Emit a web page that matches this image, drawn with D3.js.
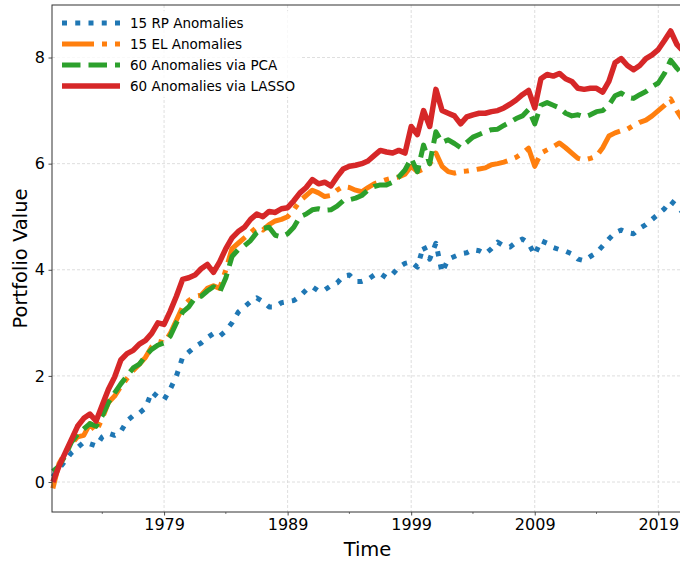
<!DOCTYPE html>
<html>
<head>
<meta charset="utf-8">
<title>Portfolio Value</title>
<script src="https://d3js.org/d3.v7.min.js"></script>
<style>
  body { margin: 0; background: #fff; }
  text { font-family: "DejaVu Sans", sans-serif; fill: #000; }
</style>
</head>
<body>
<div id="chart"></div>
<script>
// half-year sampling grid
var years = [
  1970, 1970.5, 1971, 1971.5, 1972, 1972.5, 1973, 1973.5, 1974, 1974.5,
  1975, 1975.5, 1976, 1976.5, 1977, 1977.5, 1978, 1978.5, 1979, 1979.5,
  1980, 1980.5, 1981, 1981.5, 1982, 1982.5, 1983, 1983.5, 1984, 1984.5,
  1985, 1985.5, 1986, 1986.5, 1987, 1987.5, 1988, 1988.5, 1989, 1989.5,
  1990, 1990.5, 1991, 1991.5, 1992, 1992.5, 1993, 1993.5, 1994, 1994.5,
  1995, 1995.5, 1996, 1996.5, 1997, 1997.5, 1998, 1998.5, 1999, 1999.5,
  2000, 2000.5, 2001, 2001.5, 2002, 2002.5, 2003, 2003.5, 2004, 2004.5,
  2005, 2005.5, 2006, 2006.5, 2007, 2007.5, 2008, 2008.5, 2009, 2009.5,
  2010, 2010.5, 2011, 2011.5, 2012, 2012.5, 2013, 2013.5, 2014, 2014.5,
  2015, 2015.5, 2016, 2016.5, 2017, 2017.5, 2018, 2018.5, 2019, 2019.5,
  2020, 2020.5, 2020.9
];

var rpValues = [
  0.1, 0.25, 0.4, 0.55, 0.65, 0.75, 0.72, 0.68, 0.85, 0.92,
  0.88, 0.95, 1.15, 1.25, 1.3, 1.4, 1.7, 1.6, 1.55, 1.75,
  2.0, 2.35, 2.45, 2.55, 2.62, 2.72, 2.8, 2.75, 2.85, 3.0,
  3.2, 3.3, 3.4, 3.47, 3.4, 3.3, 3.3, 3.38, 3.4, 3.42,
  3.5, 3.62, 3.68, 3.6, 3.62, 3.7, 3.75, 3.88, 3.9, 3.78,
  3.78, 3.82, 3.9, 3.93, 3.85, 3.92, 4.05, 4.12, 4.15, 4.05,
  4.45, 4.2, 4.5, 3.95, 4.2, 4.25, 4.3, 4.32, 4.38, 4.36,
  4.3, 4.4, 4.52, 4.45, 4.43, 4.52, 4.58, 4.5, 4.28, 4.55,
  4.5, 4.42, 4.38, 4.35, 4.3, 4.2, 4.17, 4.25, 4.32, 4.45,
  4.58, 4.7, 4.75, 4.7, 4.68, 4.78, 4.85, 4.95, 5.05, 5.15,
  5.3, 5.2, 5.1
];

var elValues = [
  -0.12, 0.35, 0.55, 0.72, 0.85, 0.88, 1.1, 0.95, 1.2, 1.5,
  1.62, 1.8, 1.95, 2.1, 2.22, 2.35, 2.55, 2.65, 2.62, 2.8,
  3.05, 3.3, 3.42, 3.5, 3.52, 3.65, 3.7, 3.65, 4.0, 4.4,
  4.5, 4.6, 4.7, 4.8, 4.75, 4.85, 4.92, 4.95, 5.0, 5.13,
  5.3, 5.4, 5.5, 5.45, 5.38, 5.4, 5.5, 5.57, 5.55, 5.5,
  5.47, 5.55, 5.62, 5.66, 5.7, 5.73, 5.75, 5.8, 5.95, 5.85,
  5.9, 6.0, 6.2, 5.95, 5.85, 5.82, 5.85, 5.86, 5.88, 5.9,
  5.92, 5.98, 6.0, 6.03, 6.07, 6.12, 6.2, 6.29, 5.95, 6.2,
  6.26, 6.32, 6.39, 6.3, 6.2, 6.1, 6.07, 6.1, 6.14, 6.3,
  6.52, 6.58, 6.62, 6.65, 6.72, 6.78, 6.82, 6.9, 7.0, 7.1,
  7.22, 7.0, 6.85
];

var pcaValues = [
  0.2, 0.3, 0.5, 0.75, 0.9, 1.0, 1.1, 1.05, 1.25, 1.5,
  1.68, 1.85, 2.0, 2.15, 2.22, 2.38, 2.5, 2.58, 2.62, 2.75,
  3.0, 3.2, 3.3, 3.47, 3.5, 3.6, 3.68, 3.58, 3.85, 4.25,
  4.38, 4.45, 4.55, 4.7, 4.78, 4.8, 4.65, 4.62, 4.68, 4.8,
  5.0, 5.05, 5.13, 5.15, 5.12, 5.13, 5.2, 5.3, 5.32, 5.35,
  5.4, 5.5, 5.57, 5.6, 5.6, 5.65, 5.75, 5.88, 6.1, 5.85,
  6.35, 6.0, 6.6, 6.4, 6.45, 6.38, 6.3, 6.4, 6.5, 6.55,
  6.6, 6.64, 6.65, 6.72, 6.78, 6.85, 6.9, 7.02, 6.75, 7.1,
  7.15, 7.1, 7.05, 6.95, 6.9, 6.92, 6.88, 6.92, 6.98, 7.0,
  7.1, 7.28, 7.33, 7.25, 7.23, 7.3, 7.36, 7.45, 7.52, 7.7,
  7.95, 7.8, 7.7
];

var lassoValues = [
  0.0, 0.3, 0.55, 0.8, 1.05, 1.2, 1.28, 1.15, 1.45, 1.75,
  1.98, 2.3, 2.42, 2.48, 2.6, 2.67, 2.8, 3.0, 2.97, 3.22,
  3.5, 3.82, 3.85, 3.9, 4.02, 4.1, 3.95, 4.15, 4.4, 4.6,
  4.72, 4.8, 4.95, 5.05, 5.0, 5.1, 5.08, 5.15, 5.17, 5.3,
  5.45, 5.55, 5.7, 5.62, 5.65, 5.58, 5.75, 5.9, 5.95, 5.97,
  6.0, 6.05, 6.15, 6.25, 6.22, 6.2, 6.25, 6.2, 6.7, 6.55,
  7.0, 6.7, 7.4, 7.0, 6.95, 6.9, 6.75, 6.88, 6.92, 6.95,
  6.95, 6.98, 7.0, 7.05, 7.12, 7.2, 7.3, 7.38, 7.05, 7.6,
  7.68, 7.65, 7.7, 7.6, 7.55, 7.42, 7.4, 7.42, 7.42, 7.35,
  7.55, 7.9, 7.98, 7.85, 7.77, 7.85, 7.98, 8.05, 8.15, 8.32,
  8.5, 8.25, 8.15
];

var seriesNames = ["15 RP Anomalies", "15 EL Anomalies", "60 Anomalies via PCA", "60 Anomalies via LASSO"];
var seriesColors = ["#1f77b4", "#ff7f0e", "#2ca02c", "#d62728"];
var seriesDash = ["5,8.25", "32,8,5,8", "18.5,8", null];

var majorYears = [1979, 1989, 1999, 2009, 2019];
var minorYears = [1974, 1984, 1994, 2004, 2014];
var yTicks = [0, 2, 4, 6, 8];

var width = 680, height = 561;
var plotLeft = 52, plotRight = 683, plotTop = 5, plotBottom = 512;

var svg = d3.select("#chart")
  .append("svg")
  .attr("width", width)
  .attr("height", height);

var x = d3.scaleLinear().domain([1969.93, 2021.0]).range([plotLeft, plotRight]);
var y = d3.scaleLinear().domain([-0.565, 8.99]).range([plotBottom, plotTop]);

// grid
var grid = svg.append("g")
  .attr("stroke", "#d6d6d6")
  .attr("stroke-width", 0.8)
  .attr("stroke-dasharray", "3,2");
grid.selectAll(".vgrid")
  .data(majorYears)
  .enter().append("line")
  .attr("x1", function(d) { return x(d); })
  .attr("x2", function(d) { return x(d); })
  .attr("y1", plotTop).attr("y2", plotBottom);
grid.selectAll(".hgrid")
  .data(yTicks)
  .enter().append("line")
  .attr("x1", plotLeft).attr("x2", plotRight)
  .attr("y1", function(d) { return y(d); })
  .attr("y2", function(d) { return y(d); });

// series lines
var series = [rpValues, elValues, pcaValues, lassoValues].map(function(vals, i) {
  return {
    name: seriesNames[i],
    color: seriesColors[i],
    dash: seriesDash[i],
    points: vals.map(function(v, j) { return [years[j], v]; })
  };
});

var line = d3.line()
  .x(function(d) { return x(d[0]); })
  .y(function(d) { return y(d[1]); });

svg.append("g").selectAll("path")
  .data(series)
  .enter().append("path")
  .attr("d", function(d) { return line(d.points); })
  .attr("fill", "none")
  .attr("stroke", function(d) { return d.color; })
  .attr("stroke-width", function(d, i) { return i == 3 ? 5.5 : 5; })
  .attr("stroke-linejoin", "round")
  .attr("stroke-dasharray", function(d) { return d.dash; });

// axes
var xAxis = svg.append("g")
  .attr("transform", "translate(0," + plotBottom + ")")
  .call(d3.axisBottom(x).tickValues(majorYears).tickFormat(d3.format("d"))
    .tickSize(3.5).tickPadding(3.5).tickSizeOuter(0));
xAxis.select(".domain").remove();
xAxis.selectAll("text").style("font-size", "16px").attr("fill", "#000");
xAxis.selectAll("line").attr("stroke", "#222").attr("stroke-width", 0.8);

svg.append("g")
  .selectAll("line")
  .data(minorYears)
  .enter().append("line")
  .attr("x1", function(d) { return x(d); })
  .attr("x2", function(d) { return x(d); })
  .attr("y1", plotBottom).attr("y2", plotBottom + 2)
  .attr("stroke", "#222")
  .attr("stroke-width", 0.6);

var yAxis = svg.append("g")
  .attr("transform", "translate(" + plotLeft + ",0)")
  .call(d3.axisLeft(y).tickValues(yTicks).tickSize(3.5).tickPadding(3.5).tickSizeOuter(0));
yAxis.select(".domain").remove();
yAxis.selectAll("text").style("font-size", "16px").attr("fill", "#000");
yAxis.selectAll("line").attr("stroke", "#222").attr("stroke-width", 0.8);

// frame
svg.append("rect")
  .attr("x", plotLeft).attr("y", plotTop)
  .attr("width", plotRight - plotLeft).attr("height", plotBottom - plotTop)
  .attr("fill", "none")
  .attr("stroke", "#333")
  .attr("stroke-width", 1);

// axis titles
svg.append("text")
  .attr("x", (plotLeft + plotRight) / 2)
  .attr("y", 556)
  .attr("text-anchor", "middle")
  .style("font-size", "19.5px")
  .text("Time");
svg.append("text")
  .attr("transform", "translate(27," + (plotTop + plotBottom) / 2 + ") rotate(-90)")
  .attr("text-anchor", "middle")
  .style("font-size", "19.5px")
  .text("Portfolio Value");

// legend
var legend = svg.append("g");
legend.append("rect")
  .attr("x", 56).attr("y", 11)
  .attr("width", 246).attr("height", 86)
  .attr("rx", 3)
  .attr("fill", "#fff")
  .attr("fill-opacity", 0.8);
var item = legend.selectAll(".item")
  .data(series)
  .enter().append("g")
  .attr("transform", function(d, i) { return "translate(0," + (23 + i * 21) + ")"; });
item.append("line")
  .attr("x1", 62).attr("x2", 120)
  .attr("stroke", function(d) { return d.color; })
  .attr("stroke-width", function(d, i) { return i == 3 ? 5.5 : 5; })
  .attr("stroke-dasharray", function(d) { return d.dash; });
item.append("text")
  .attr("x", 130)
  .attr("dy", "0.35em")
  .style("font-size", "13.5px")
  .text(function(d) { return d.name; });
</script>
</body>
</html>
